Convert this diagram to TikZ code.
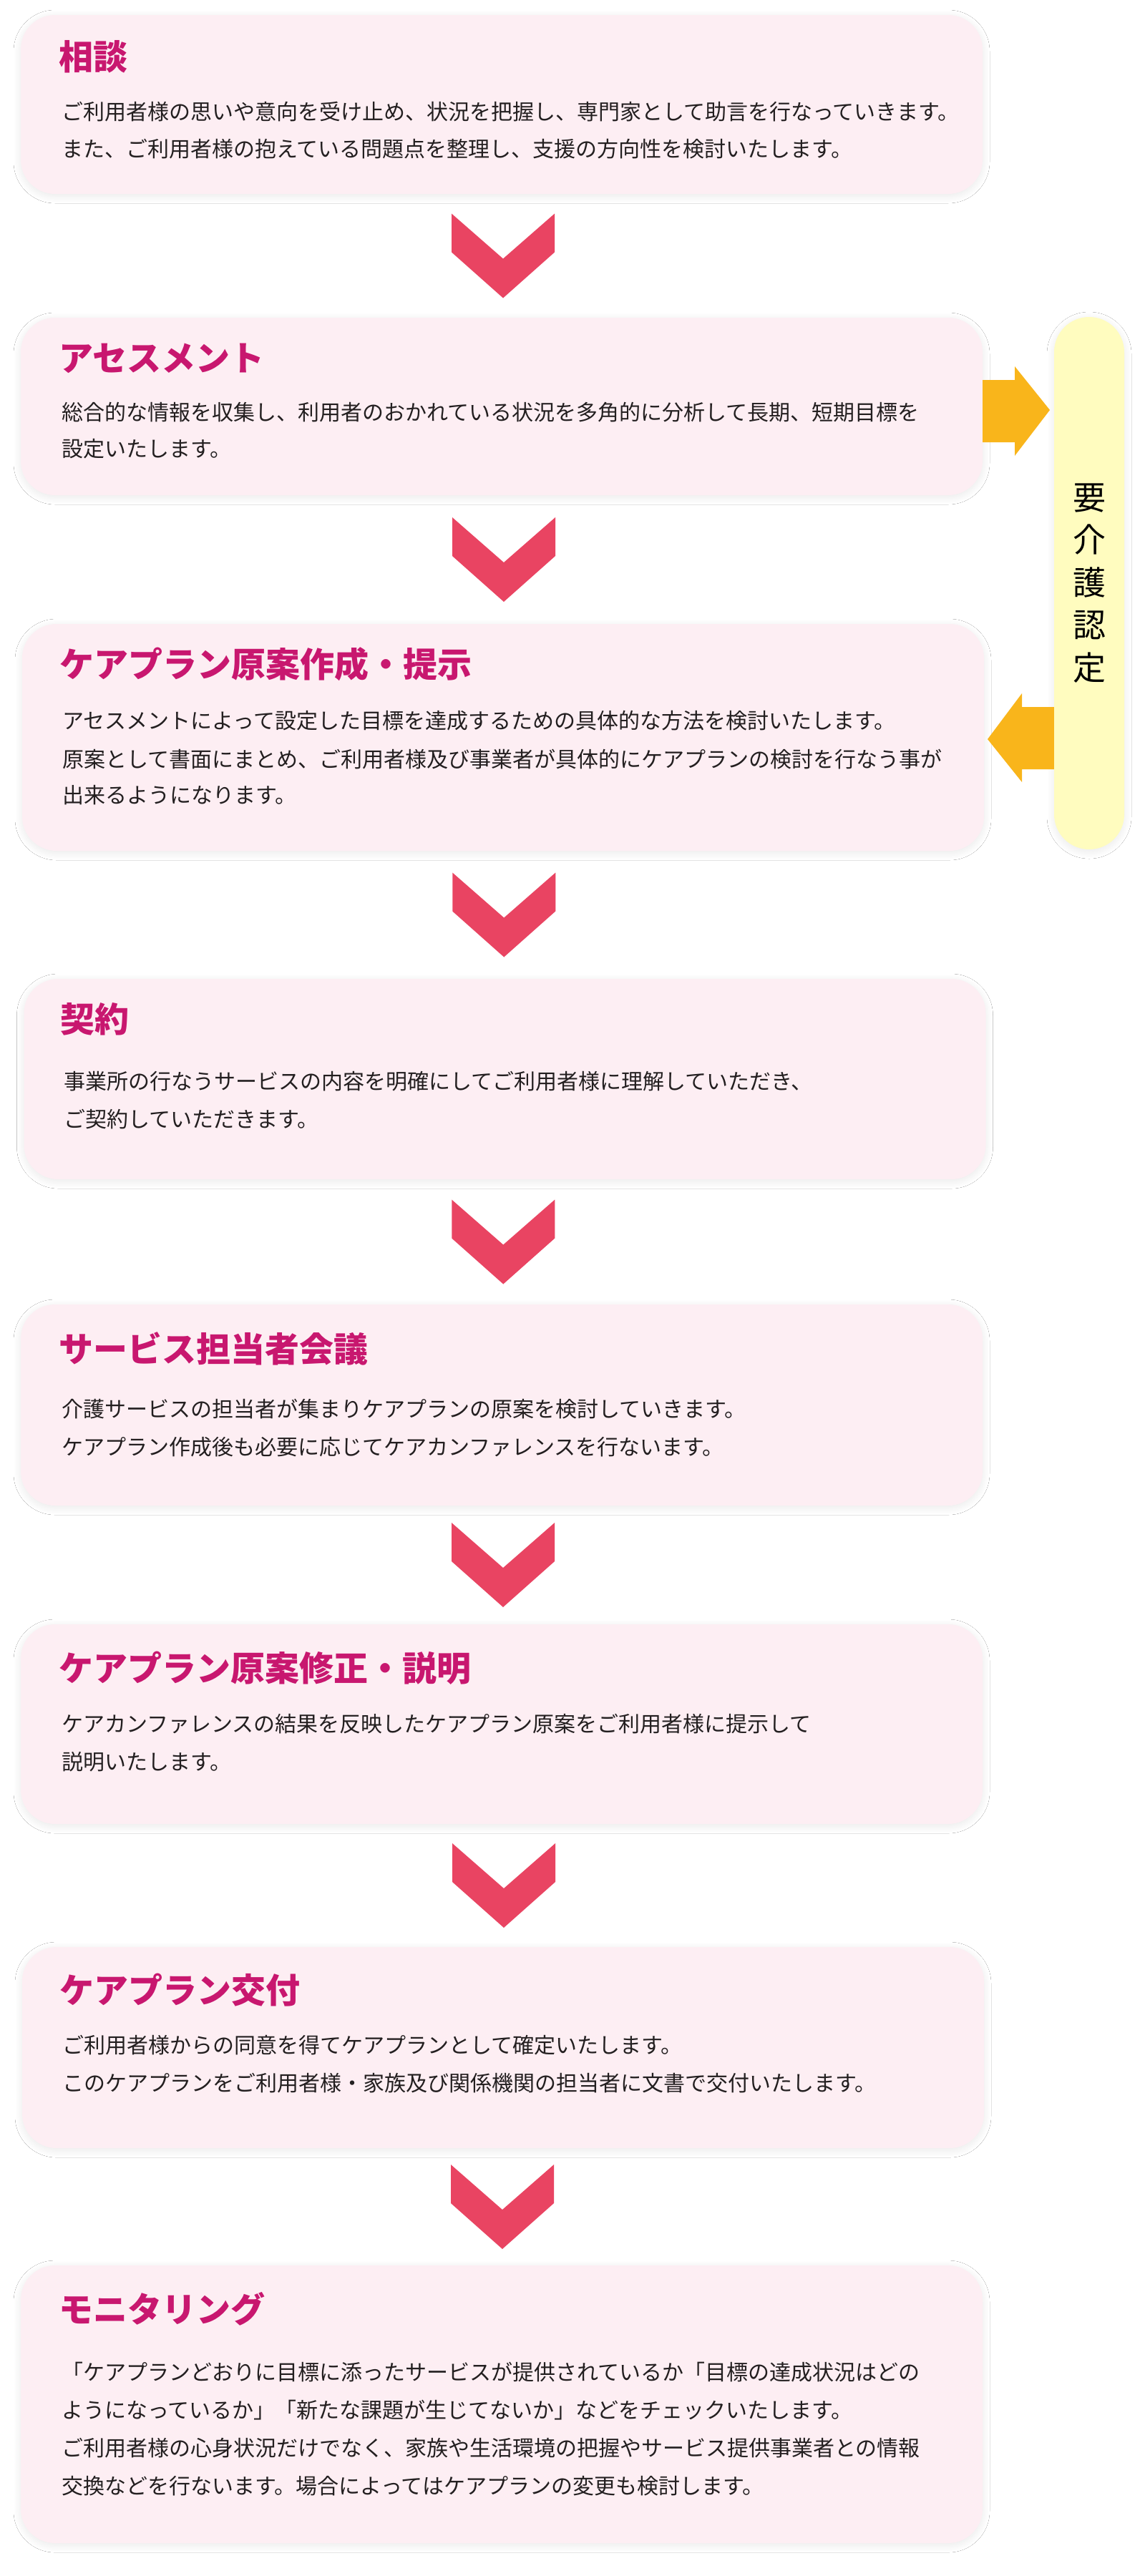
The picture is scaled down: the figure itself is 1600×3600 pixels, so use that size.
\documentclass[tikz,border=0pt]{standalone}
\usepackage{fontspec}
\newfontfamily\jpfont{Noto Sans CJK JP}
\usetikzlibrary{calc}
\usetikzlibrary{shadows.blur}

\definecolor{boxpink}{HTML}{FDEEF3}
\definecolor{titlered}{HTML}{C8176F}
\definecolor{bodyblack}{HTML}{231F20}
\definecolor{chevronred}{HTML}{E94462}
\definecolor{arrowgold}{HTML}{F9B51B}
\definecolor{barcream}{HTML}{FFFCBF}

\begin{document}
\begin{tikzpicture}[x=1pt,y=-1pt,
  stepbox/.style={rectangle,rounded corners=48pt,fill=boxpink,minimum width=1344pt,inner sep=0pt,
    blur shadow={shadow xshift=0pt,shadow yshift=-3pt,shadow blur radius=10pt,shadow blur steps=20,shadow opacity=9}},
  titletext/.style={anchor=west,inner sep=0pt,text=titlered,font=\jpfont\bfseries\fontsize{48}{56}\selectfont,
    text height=42pt,text depth=6pt},
  bodytext/.style={anchor=west,inner sep=0pt,text=bodyblack,font=\jpfont\fontsize{30}{36}\selectfont,
    text height=26pt,text depth=4pt},
  chevron/.style={fill=chevronred},
  goldarrow/.style={fill=arrowgold}]

\path[use as bounding box,fill=white] (0,0) rectangle (1600,3600);

    % steps
    \node[stepbox,minimum height=250pt] (soudan) at (701,146) {};
    \node[stepbox,minimum height=248pt] (assess) at (701,568) {};
    \node[stepbox,minimum height=317pt] (gen) at (703,1030.5) {};
    \node[stepbox,minimum height=280pt] (keiyaku) at (705.5,1508) {};
    \node[stepbox,minimum height=281pt] (kaigi) at (701,1963.5) {};
    \node[stepbox,minimum height=279pt] (shusei) at (701,2409.5) {};
    \node[stepbox,minimum height=281pt] (koufu) at (703,2861.5) {};
    \node[stepbox,minimum height=388pt] (monitor) at (701,3360) {};

    % side bar
    \node[rectangle,rounded corners=48.9pt,fill=barcream,minimum width=98pt,minimum height=744pt,inner sep=0pt,
      blur shadow={shadow xshift=0pt,shadow yshift=-3pt,shadow blur radius=10pt,shadow blur steps=20,shadow opacity=9},
      align=center,text=black,font=\jpfont\fontsize{46}{59.5}\selectfont] (nintei) at (1522,815)
      {要\\介\\護\\認\\定};

    % titles and texts
    \node[titletext] (soudan-t) at (82,79) {相談};
    \node[bodytext] (soudan-1) at (86,156) {ご利用者様の思いや意向を受け止め、状況を把握し、専門家として助言を行なっていきます。};
    \node[bodytext] (soudan-2) at (86,208) {また、ご利用者様の抱えている問題点を整理し、支援の方向性を検討いたします。};

    \node[titletext] (assess-t) at (82,500) {アセスメント};
    \node[bodytext] (assess-1) at (86,576) {総合的な情報を収集し、利用者のおかれている状況を多角的に分析して長期、短期目標を};
    \node[bodytext] (assess-2) at (86,627) {設定いたします。};

    \node[titletext] (gen-t) at (83,928) {ケアプラン原案作成・提示};
    \node[bodytext] (gen-1) at (87,1007) {アセスメントによって設定した目標を達成するための具体的な方法を検討いたします。};
    \node[bodytext] (gen-2) at (87,1061) {原案として書面にまとめ、ご利用者様及び事業者が具体的にケアプランの検討を行なう事が};
    \node[bodytext] (gen-3) at (87,1111) {出来るようになります。};

    \node[titletext] (keiyaku-t) at (84,1424) {契約};
    \node[bodytext] (keiyaku-1) at (89,1511) {事業所の行なうサービスの内容を明確にしてご利用者様に理解していただき、};
    \node[bodytext] (keiyaku-2) at (89,1564) {ご契約していただきます。};

    \node[titletext] (kaigi-t) at (82,1885) {サービス担当者会議};
    \node[bodytext] (kaigi-1) at (86,1969) {介護サービスの担当者が集まりケアプランの原案を検討していきます。};
    \node[bodytext] (kaigi-2) at (86,2022) {ケアプラン作成後も必要に応じてケアカンファレンスを行ないます。};

    \node[titletext] (shusei-t) at (82,2331) {ケアプラン原案修正・説明};
    \node[bodytext] (shusei-1) at (86,2409) {ケアカンファレンスの結果を反映したケアプラン原案をご利用者様に提示して};
    \node[bodytext] (shusei-2) at (86,2462) {説明いたします。};

    \node[titletext] (koufu-t) at (83,2781) {ケアプラン交付};
    \node[bodytext] (koufu-1) at (87,2858) {ご利用者様からの同意を得てケアプランとして確定いたします。};
    \node[bodytext] (koufu-2) at (87,2911) {このケアプランをご利用者様・家族及び関係機関の担当者に文書で交付いたします。};

    \node[titletext] (monitor-t) at (82,3227) {モニタリング};
    \node[bodytext] (monitor-1) at (86,3315) {「ケアプランどおりに目標に添ったサービスが提供されているか「目標の達成状況はどの};
    \node[bodytext] (monitor-2) at (86,3368) {ようになっているか」「新たな課題が生じてないか」などをチェックいたします。};
    \node[bodytext] (monitor-3) at (86,3421) {ご利用者様の心身状況だけでなく、家族や生活環境の把握やサービス提供事業者との情報};
    \node[bodytext] (monitor-4) at (86,3474) {交換などを行ないます。場合によってはケアプランの変更も検討します。};

    % chevrons between steps
    \fill[chevron] ($(soudan.south)!0.5!(assess.north)$) ++(-70,-59) -- ++(72,63) -- ++(72,-63) -- ++(0,54) -- ++(-72,64) -- ++(-72,-64) -- cycle;
    \fill[chevron] ($(assess.south)!0.5!(gen.north)$) ++(-70,-59) -- ++(72,63) -- ++(72,-63) -- ++(0,54) -- ++(-72,64) -- ++(-72,-64) -- cycle;
    \fill[chevron] ($(gen.south)!0.5!(keiyaku.north)$) ++(-72,-59) -- ++(72,63) -- ++(72,-63) -- ++(0,54) -- ++(-72,64) -- ++(-72,-64) -- cycle;
    \fill[chevron] ($(keiyaku.south)!0.5!(kaigi.north)$) ++(-72,-59) -- ++(72,63) -- ++(72,-63) -- ++(0,54) -- ++(-72,64) -- ++(-72,-64) -- cycle;
    \fill[chevron] ($(kaigi.south)!0.5!(shusei.north)$) ++(-70,-59) -- ++(72,63) -- ++(72,-63) -- ++(0,54) -- ++(-72,64) -- ++(-72,-64) -- cycle;
    \fill[chevron] ($(shusei.south)!0.5!(koufu.north)$) ++(-70,-59) -- ++(72,63) -- ++(72,-63) -- ++(0,54) -- ++(-72,64) -- ++(-72,-64) -- cycle;
    \fill[chevron] ($(koufu.south)!0.5!(monitor.north)$) ++(-72,-59) -- ++(72,63) -- ++(72,-63) -- ++(0,54) -- ++(-72,64) -- ++(-72,-64) -- cycle;

    % arrows to and from the side bar
    \fill[goldarrow] (assess.east |- 0,531) -- (1418,531) -- (1418,512) -- (1467,573) -- (1418,637) -- (1418,618) -- (assess.east |- 0,618) -- cycle;
    \fill[goldarrow] (nintei.west |- 0,988) -- (1428,988) -- (1428,969) -- (1380,1033) -- (1428,1093) -- (1428,1075) -- (nintei.west |- 0,1075) -- cycle;

\end{tikzpicture}
\end{document}
